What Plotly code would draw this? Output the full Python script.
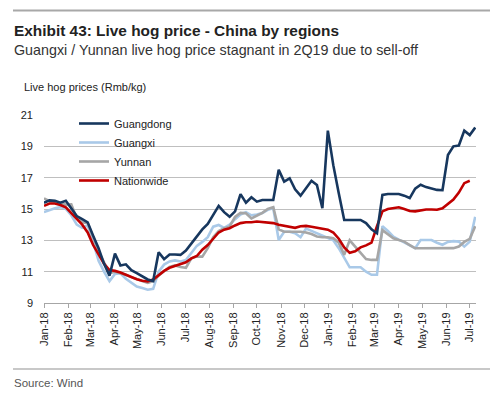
import pandas as pd
import plotly.graph_objects as go

# ---- data (weekly, Rmb/kg) ----
dates = pd.date_range("2018-01-01", periods=80, freq="7D")

guangdong = [15.4, 15.55, 15.52, 15.4, 15.53, 15.0, 14.55, 14.35, 14.15, 13.3,
             12.5, 11.5, 10.75, 12.15, 11.4, 11.47, 11.1, 10.9, 10.7, 10.5,
             10.4, 12.24, 11.8, 12.1, 12.1, 12.07, 12.35, 12.8, 13.2, 13.7,
             14.05, 14.6, 15.2, 14.8, 14.5, 14.85, 15.95, 15.4, 15.75, 15.47,
             15.57, 15.57, 15.57, 17.5, 16.75, 16.96, 16.26, 15.85, 16.3, 16.8,
             16.53, 15.05, 20.0, 17.8, 16.0, 14.3, 14.3, 14.3, 14.3, 14.1,
             13.7, 13.45, 15.9, 15.96, 15.96, 15.96, 15.85, 15.7, 16.3, 16.55,
             16.4, 16.3, 16.22, 16.2, 18.45, 19.0, 19.05, 20.0, 19.72, 20.2]

guangxi = [14.8, 14.95, 15.05, 15.12, 15.0, 14.6, 14.0, 13.8, 13.95, 12.9,
           11.7, 11.0, 10.4, 10.85, 10.9, 10.55, 10.3, 10.05, 9.95, 9.85,
           9.9, 11.0, 11.45, 11.65, 11.72, 11.65, 11.74, 12.2, 12.65, 12.9,
           13.2, 13.87, 13.98, 13.8, 14.0, 14.35, 14.65, 14.8, 14.6, 14.65,
           14.75, 14.95, 15.05, 13.02, 13.55, 13.55, 13.45, 13.2, 13.75, 13.6,
           13.45, 13.3, 13.2, 13.0, 12.5, 11.85, 11.28, 11.28, 11.28, 11.0,
           10.8, 10.8, 13.9, 13.6, 13.23, 13.05, 12.85, 12.65, 12.5, 13.02,
           13.02, 13.02, 12.85, 12.72, 12.9, 12.95, 12.92, 12.6, 12.92, 14.5]

yunnan = [15.68, 15.5, 15.43, 15.35, 15.28, 15.3, 14.4, 14.15, 14.09, 13.2,
          12.3, 11.6, 10.9, 11.0, 10.92, 10.8, 10.65, 10.5, 10.4, 10.28,
          10.4, 10.75, 11.05, 11.3, 11.4, 11.3, 11.25, 11.85, 11.96, 11.96,
          12.5, 13.2, 13.6, 13.77, 13.87, 14.5, 14.75, 14.73, 14.4, 14.55,
          14.75, 15.0, 15.11, 13.7, 13.55, 13.55, 13.55, 13.55, 13.5, 13.4,
          13.25, 13.2, 13.2, 13.13, 12.85, 12.07, 13.0, 12.6, 12.15, 11.8,
          11.75, 11.75, 13.65, 13.4, 13.13, 13.02, 12.92, 12.7, 12.49, 12.49,
          12.49, 12.49, 12.49, 12.49, 12.49, 12.5, 12.6, 12.9, 13.1, 13.9]

nationwide = [15.2, 15.35, 15.35, 15.25, 15.1, 14.75, 14.35, 14.0, 13.5, 12.7,
              12.1, 11.5, 11.1, 11.05, 10.95, 10.8, 10.65, 10.52, 10.42, 10.37,
              10.5, 10.8, 11.05, 11.25, 11.35, 11.45, 11.6, 11.85, 12.0, 12.4,
              12.7, 13.1, 13.5, 13.68, 13.77, 13.95, 14.1, 14.15, 14.15, 14.2,
              14.17, 14.12, 14.1, 14.0, 13.92, 13.85, 13.8, 13.9, 13.92, 13.87,
              13.8, 13.72, 13.68, 13.5, 13.1, 12.55, 12.2, 12.3, 12.55, 12.68,
              12.85, 13.9, 14.85, 15.0, 15.05, 15.11, 15.0, 14.87, 14.85, 14.92,
              14.97, 14.97, 14.95, 15.05, 15.3, 15.6, 16.05, 16.65, 16.8, None]

y_ticks = [9, 11, 13, 15, 17, 19, 21]

# ---- geometry (page has an 8px body margin; work in window pixels) ----
OFF = 8
W, H = 500 - 2 * OFF, 399 - 2 * OFF
PLOT_L, PLOT_R, PLOT_T, PLOT_B = 44, 476, 115, 303
ML = PLOT_L - OFF
MR = (OFF + W) - PLOT_R
MT = PLOT_T - OFF
MB = (OFF + H) - PLOT_B
PW, PH = PLOT_R - PLOT_L, PLOT_B - PLOT_T


def px(x):
    return (x - PLOT_L) / PW


def py(y):
    return (PLOT_B - y) / PH


fig = go.Figure()

series = [
    ("Guangxi", guangxi, "#A9C9E8", 2),
    ("Yunnan", yunnan, "#A6A6A6", 3),
    ("Nationwide", nationwide, "#C00000", 4),
    ("Guangdong", guangdong, "#17375E", 1),
]
for name, vals, color, rank in series:
    fig.add_trace(go.Scatter(
        x=dates, y=vals, name=name, mode="lines",
        line=dict(color=color, width=2.6),
        legendrank=rank, connectgaps=False,
    ))

fig.update_layout(
    width=W, height=H,
    margin=dict(l=ML, r=MR, t=MT, b=MB, autoexpand=False),
    paper_bgcolor="white", plot_bgcolor="white",
    font=dict(family="Liberation Sans, Arial, sans-serif", size=11, color="#222222"),
    showlegend=True,
    legend=dict(
        x=px(74), y=py(109), xanchor="left", yanchor="top",
        bgcolor="rgba(0,0,0,0)", borderwidth=0,
        font=dict(size=11, color="#222222"),
        traceorder="normal",
    ),
    xaxis=dict(
        type="date",
        range=["2018-01-01", "2019-07-09"],
        tick0="2018-01-01", dtick="M1", tickformat="%b-%y",
        tickangle=-90,
        ticks="outside", ticklen=4, tickcolor="#A6A6A6",
        showline=True, linecolor="#A6A6A6", linewidth=1,
        showgrid=False, zeroline=False,
        tickfont=dict(size=11, color="#222222"),
    ),
    yaxis=dict(
        range=[9, 21], tickvals=y_ticks,
        showgrid=True, gridcolor="#BFBFBF", gridwidth=1,
        showline=False, zeroline=False, ticks="",
        ticklabelstandoff=10,
        tickfont=dict(size=11, color="#222222"),
    ),
)

# decorative rules
fig.add_shape(type="line", xref="paper", yref="paper",
              x0=px(13), x1=px(490), y0=py(10.5), y1=py(10.5),
              line=dict(color="#A8A8A8", width=2))
fig.add_shape(type="line", xref="paper", yref="paper",
              x0=px(13), x1=px(490), y0=py(369), y1=py(369),
              line=dict(color="#C8C8C8", width=2))

# texts
fig.add_annotation(text="<b>Exhibit 43: Live hog price - China by regions</b>",
                   xref="paper", yref="paper", x=px(12), y=py(31),
                   xanchor="left", yanchor="middle", showarrow=False,
                   font=dict(size=15.4, color="#222222"))
fig.add_annotation(text="Guangxi / Yunnan live hog price stagnant in 2Q19 due to sell-off",
                   xref="paper", yref="paper", x=px(12), y=py(50),
                   xanchor="left", yanchor="middle", showarrow=False,
                   font=dict(size=14.3, color="#333333"))
fig.add_annotation(text="Live hog prices (Rmb/kg)",
                   xref="paper", yref="paper", x=px(22), y=py(87),
                   xanchor="left", yanchor="middle", showarrow=False,
                   font=dict(size=11, color="#222222"))
fig.add_annotation(text="Source: Wind",
                   xref="paper", yref="paper", x=px(12), y=py(383),
                   xanchor="left", yanchor="middle", showarrow=False,
                   font=dict(size=11.5, color="#555555"))

fig.write_html("out.html")
